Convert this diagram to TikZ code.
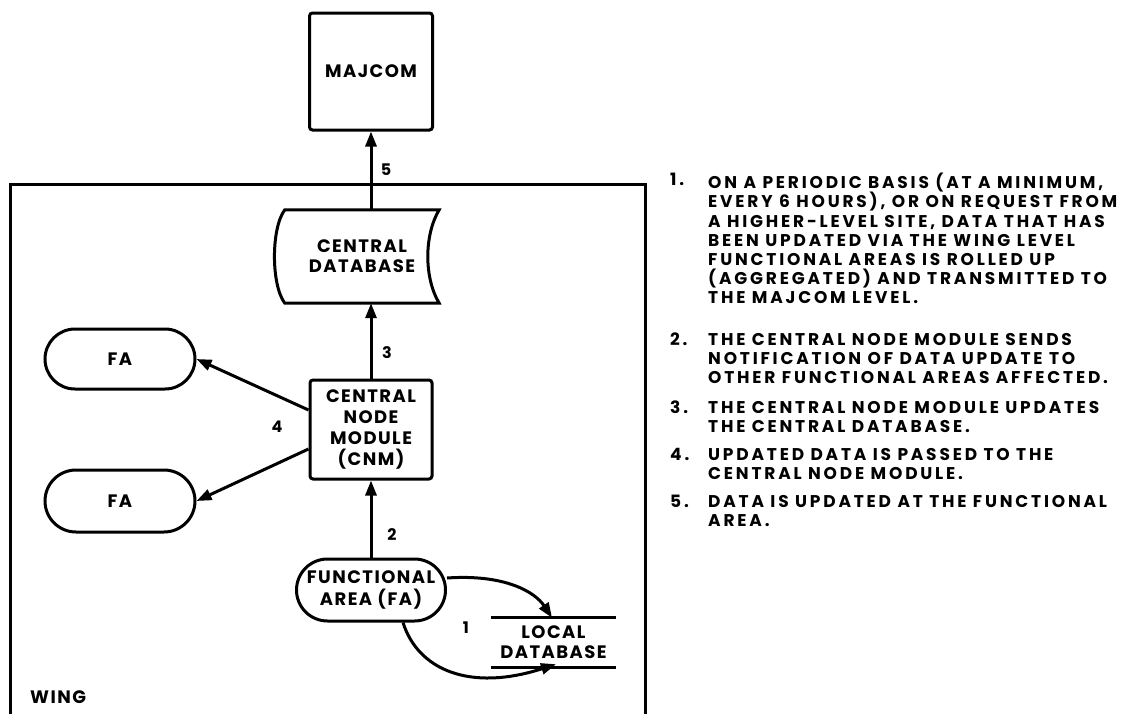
\documentclass[tikz,border=0pt]{standalone}
\usepackage{fontspec}
\setmainfont{Poppins}
\newfontfamily\dfont[LetterSpace=8]{Poppins}
\newfontfamily\lfont[LetterSpace=16.5]{Poppins}
\usetikzlibrary{arrows.meta,shapes.misc}
\begin{document}
\begin{tikzpicture}[x=1pt,y=-1pt,
  ln/.style={line width=3pt},
  arr/.style={ln,-{Triangle[length=15pt,width=11pt]}},
  dtext/.style={font=\dfont\bfseries\fontsize{18}{20}\selectfont,align=center,inner sep=0pt},
  num/.style={font=\dfont\bfseries\fontsize{16}{16}\selectfont,inner sep=0pt},
  boxnode/.style={dtext,draw,ln,rounded corners=3pt},
  pill/.style={dtext,draw,ln,rounded rectangle},
  ltext/.style={font=\lfont\bfseries\fontsize{17}{19.2}\selectfont,align=left,inner sep=0pt,anchor=north west},
  lnum/.style={font=\lfont\bfseries\fontsize{17}{19.2}\selectfont,inner sep=0pt,anchor=north west}]
\useasboundingbox (0,0) rectangle (1128,713);
% wing frame
\draw[ln] (10,720) -- (10,184) -- (645,184) -- (645,720);
\node[dtext,anchor=west] (wing) at (30,697) {WING};
% nodes
\node[boxnode,minimum width=123pt,minimum height=117pt] (majcom) at (371,71.5) {MAJCOM};
\node[dtext,minimum width=154pt,minimum height=93pt] (cdb) at (362,256.5) {CENTRAL\\DATABASE};
\draw[ln] (cdb.north west) -- (cdb.north east)
  .. controls (424,235) and (424,278) .. (cdb.south east)
  -- (cdb.south west)
  .. controls (271,285) and (271,228) .. (cdb.north west) -- cycle;
\node[boxnode,minimum width=122pt,minimum height=99pt,font=\dfont\bfseries\fontsize{18}{20.7}\selectfont] (cnm) at (371,429.5) {CENTRAL\\NODE\\MODULE\\(CNM)};
\node[pill,minimum width=150pt,minimum height=60pt] (fa1) at (120,359) {FA};
\node[pill,minimum width=150pt,minimum height=62pt] (fa2) at (120,501) {FA};
\node[pill,minimum width=149pt,minimum height=62pt,font=\dfont\bfseries\fontsize{18}{22}\selectfont] (fa) at (371,590) {FUNCTIONAL\\AREA (FA)};
\node[dtext,minimum width=125pt,minimum height=49pt] (ldb) at (553.5,642.5) {LOCAL\\DATABASE};
\draw[ln] (ldb.north west) -- (ldb.north east);
\draw[ln] (ldb.south west) -- (ldb.south east);
% connectors
\draw[arr] (cdb.north -| majcom.south) -- (majcom.south);
\draw[arr] (cnm.north) -- (cnm.north |- cdb.south);
\draw[arr] (fa.north) -- (cnm.south);
\coordinate (c4a) at (cnm.west |- 0,410);
\coordinate (c4b) at (cnm.west |- 0,449);
\draw[arr] (c4a) -- (fa1.east);
\draw[arr] (c4b) -- (fa2.east);
\coordinate (ldbtop) at (ldb.north -| 552,0);
\coordinate (ldbbot) at (ldb.south -| 556,0);
\draw[arr] (fa.east |- 0,578) .. controls (505,574) and (535,592) .. (ldbtop);
\draw[arr] (fa.south -| 403,0) .. controls (418,670) and (470,692) .. ([yshift=3pt]ldbbot);
% labels
\node[num] (l5) at (386,170) {5};
\node[num] (l3) at (387,353) {3};
\node[num] (l4) at (277,427) {4};
\node[num] (l2) at (392,535) {2};
\node[num] (l1) at (466,628) {1};
% list
\node[lnum] (n1) at (670,173) {1.};
\node[ltext] (t1) at (708,173) {ON A PERIODIC BASIS (AT A MINIMUM,\\EVERY 6 HOURS), OR ON REQUEST FROM\\A HIGHER-LEVEL SITE, DATA THAT HAS\\BEEN UPDATED VIA THE WING LEVEL\\FUNCTIONAL AREAS IS ROLLED UP\\(AGGREGATED) AND TRANSMITTED TO\\THE MAJCOM LEVEL.};
\node[lnum] (n2) at (670,333) {2.};
\node[ltext] (t2) at (708,333) {THE CENTRAL NODE MODULE SENDS\\NOTIFICATION OF DATA UPDATE TO\\OTHER FUNCTIONAL AREAS AFFECTED.};
\node[lnum] (n3) at (670,401) {3.};
\node[ltext] (t3) at (708,401) {THE CENTRAL NODE MODULE UPDATES\\THE CENTRAL DATABASE.};
\node[lnum] (n4) at (670,448) {4.};
\node[ltext] (t4) at (708,448) {UPDATED DATA IS PASSED TO THE\\CENTRAL NODE MODULE.};
\node[lnum] (n5) at (670,495) {5.};
\node[ltext] (t5) at (708,495) {DATA IS UPDATED AT THE FUNCTIONAL\\AREA.};
\end{tikzpicture}
\end{document}
